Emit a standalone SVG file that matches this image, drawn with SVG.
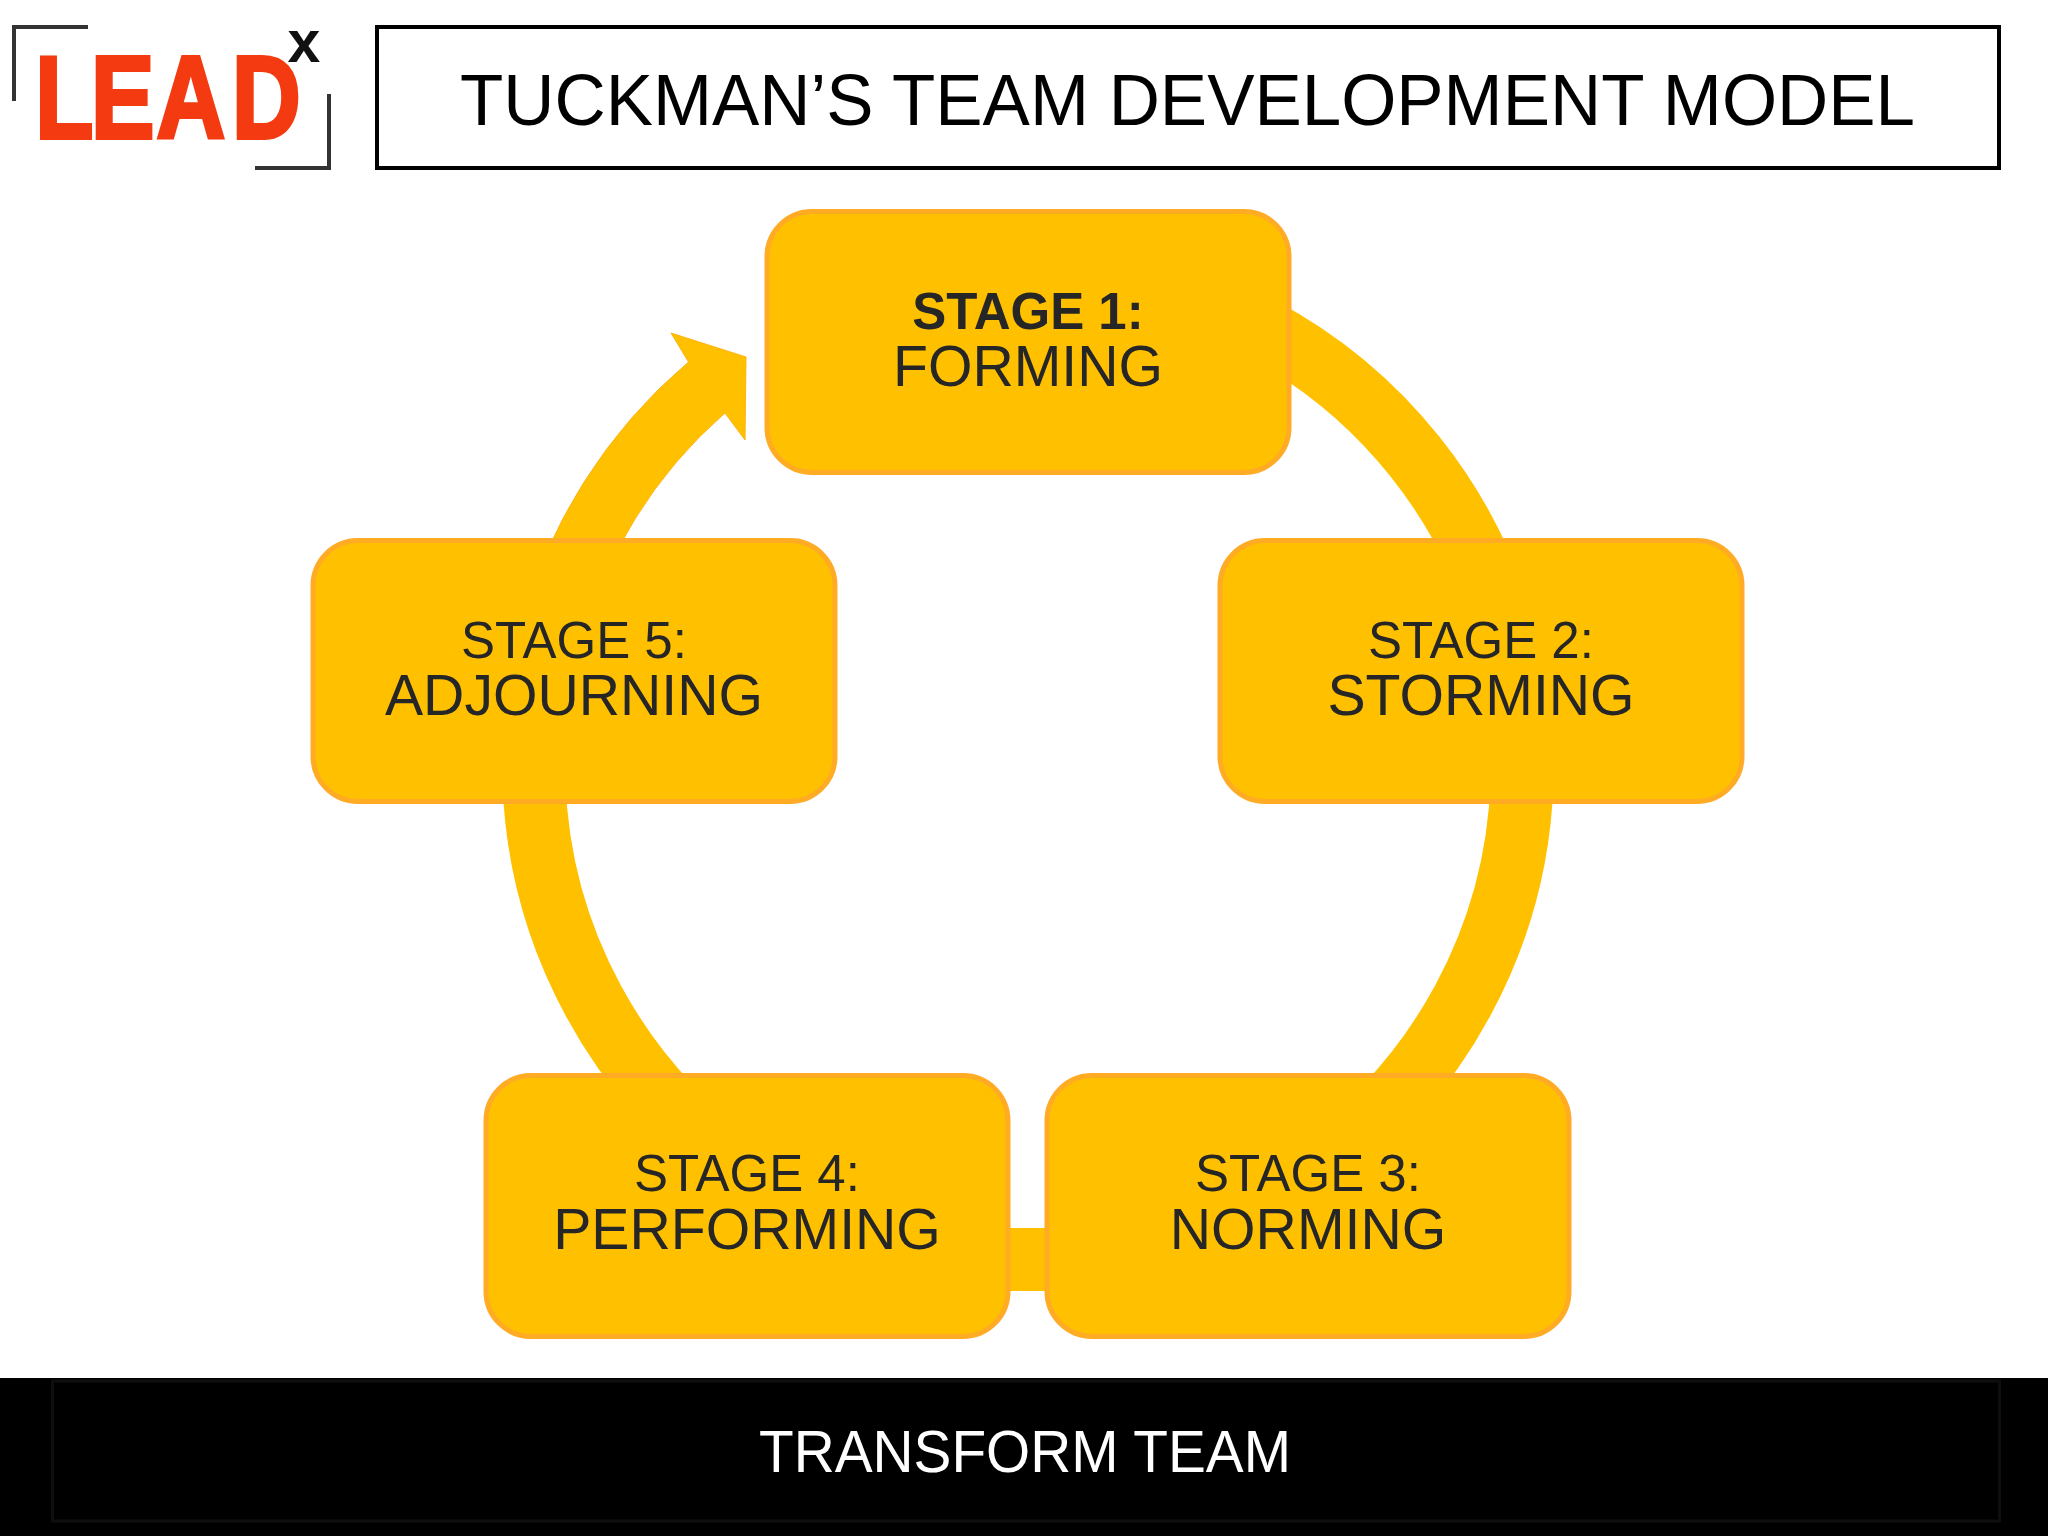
<svg xmlns="http://www.w3.org/2000/svg" width="2048" height="1536" viewBox="0 0 2048 1536">
<style>
text{font-family:"Liberation Sans",Arial,sans-serif}
.box{fill:#FFC000;stroke:#FFAB24;stroke-width:5}
.lab{font-size:51px;fill:#262626;text-anchor:middle}
.name{font-size:57.200px;fill:#262626;text-anchor:middle}
.arc{fill:none;stroke:#FFC000;stroke-width:63}
.head{fill:#FFC000;stroke:#FFB30F;stroke-width:1}
.br{fill:none;stroke:#333;stroke-width:4}
</style>
<rect width="2048" height="1536" fill="#fff"/>
<g id="logo">
<path class="br" d="M88,27H14V101"/>
<path class="br" d="M255,168H329V94"/>
<text transform="scale(.82,1)" x="43 111 191 283" y="138" font-size="116" font-weight="700" fill="#F43A10" stroke="#F43A10" stroke-width="4">LEAD</text>
<text x="304" y="62" font-size="59" font-weight="700" fill="#111" text-anchor="middle">x</text>
</g>
<g id="title">
<rect x="377" y="27" width="1622" height="141" fill="#fff" stroke="#000" stroke-width="4"/>
<text x="460" y="125" font-size="72" fill="#000" textLength="1455" lengthAdjust="spacingAndGlyphs">TUCKMAN’S TEAM DEVELOPMENT MODEL</text>
</g>
<g id="connectors">
<path class="arc" d="M1260,328A494.5,494.5 0 0 1 1506,637"/>
<path class="arc" d="M1522,782A494.5,494.5 0 0 1 1312,1170"/>
<path class="arc" d="M1071,1259.500H985"/>
<path class="arc" d="M744,1170A494.5,494.5 0 0 1 534,782"/>
<path class="head" d="M520,629A526,526 0 0 1 688.5,362L671,333L746,357L745,440L725,413A463,463 0 0 0 581,645Z"/>
</g>
<g id="stage1">
<rect class="box" x="767" y="211.5" width="522" height="261" rx="45"/>
<text class="lab" x="1028" y="328.500" font-weight="700">STAGE 1:</text>
<text class="name" x="1028" y="386">FORMING</text>
</g>
<g id="stage2">
<rect class="box" x="1220" y="540.5" width="522" height="261" rx="45"/>
<text class="lab" x="1481" y="658">STAGE 2:</text>
<text class="name" x="1481" y="715">STORMING</text>
</g>
<g id="stage3">
<rect class="box" x="1047" y="1075.5" width="522" height="261" rx="45"/>
<text class="lab" x="1308" y="1191">STAGE 3:</text>
<text class="name" x="1308" y="1249">NORMING</text>
</g>
<g id="stage4">
<rect class="box" x="486" y="1075.5" width="522" height="261" rx="45"/>
<text class="lab" x="747" y="1191">STAGE 4:</text>
<text class="name" x="747" y="1249">PERFORMING</text>
</g>
<g id="stage5">
<rect class="box" x="313" y="540.5" width="522" height="261" rx="45"/>
<text class="lab" x="574" y="658">STAGE 5:</text>
<text class="name" x="574" y="715">ADJOURNING</text>
</g>
<g id="footer">
<rect x="0" y="1378" width="2048" height="158" fill="#000"/>
<rect x="52.500" y="1381" width="1947" height="140" fill="none" stroke="#0e0e0e" stroke-width="3"/>
<text x="759" y="1472" font-size="60" fill="#fff" textLength="532" lengthAdjust="spacingAndGlyphs">TRANSFORM TEAM</text>
</g>
</svg>
